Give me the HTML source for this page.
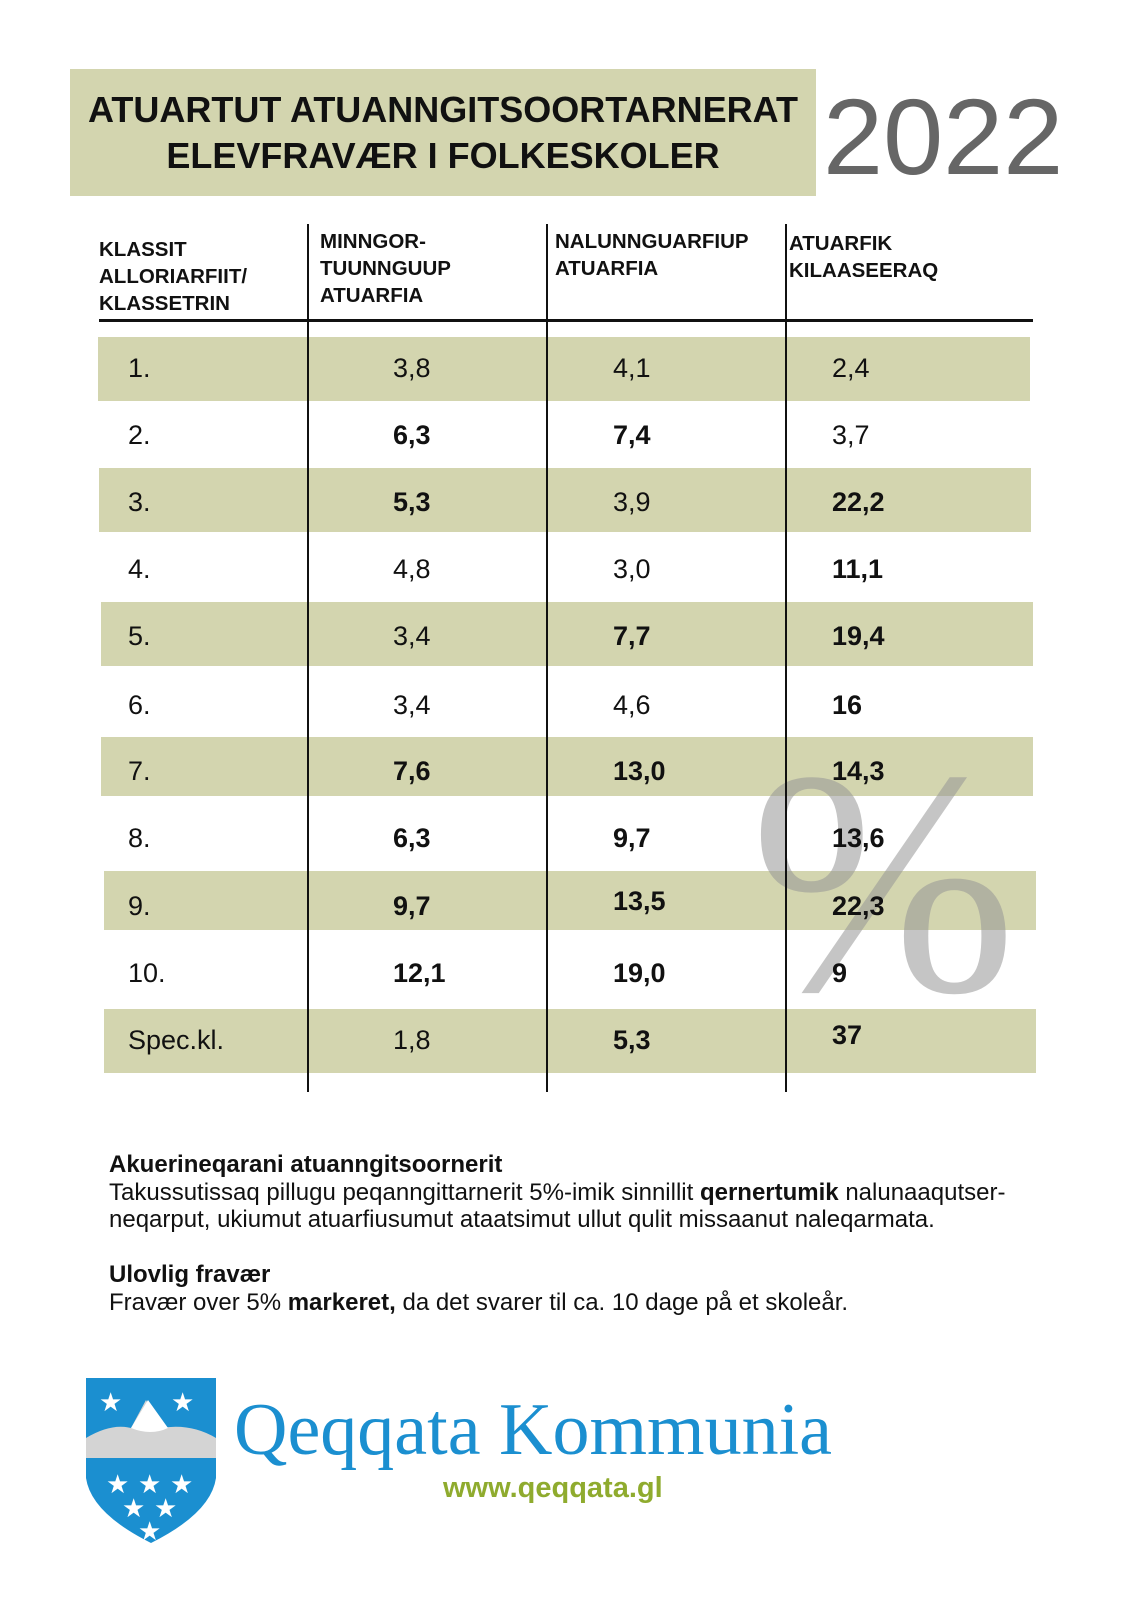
<!DOCTYPE html>
<html><head><meta charset="utf-8"><style>
body{margin:0;width:1140px;height:1613px;background:#fff;position:relative;overflow:hidden;font-family:"Liberation Sans",sans-serif;color:#111}
.a{position:absolute;white-space:nowrap}
.sh{position:absolute;background:#d3d5af}
.v{position:absolute;width:2px;background:#111;top:224px;height:868px}
.t{position:absolute;font-size:27px;line-height:30px;transform:translateY(-15px)}
.b{font-weight:bold}
.h{position:absolute;font-weight:bold;font-size:20.5px;line-height:27px;top:232px}
</style></head><body>
<div class="sh" style="left:70px;top:69px;width:746px;height:127px"></div>
<div class="a b" style="left:70px;width:746px;text-align:center;top:87px;font-size:36px;line-height:46px">ATUARTUT ATUANNGITSOORTARNERAT<br>ELEVFRAVÆR I FOLKESKOLER</div>
<div class="a" style="left:823px;top:74px;font-size:108px;line-height:126px;color:#666">2022</div>

<div class="h" style="left:99px;top:236px">KLASSIT<br>ALLORIARFIIT/<br>KLASSETRIN</div>
<div class="h" style="left:320px;top:228px">MINNGOR-<br>TUUNNGUUP<br>ATUARFIA</div>
<div class="h" style="left:555px;top:228px">NALUNNGUARFIUP<br>ATUARFIA</div>
<div class="h" style="left:789px;top:230px">ATUARFIK<br>KILAASEERAQ</div>

<div class="sh" style="left:98px;top:337px;width:932px;height:64px"></div>
<div class="sh" style="left:99px;top:468px;width:932px;height:64px"></div>
<div class="sh" style="left:101px;top:602px;width:932px;height:64px"></div>
<div class="sh" style="left:101px;top:737px;width:932px;height:59px"></div>
<div class="sh" style="left:104px;top:871px;width:932px;height:59px"></div>
<div class="sh" style="left:104px;top:1009px;width:932px;height:64px"></div>

<div class="a" style="left:750px;top:698px;font-family:'Liberation Serif',serif;font-size:320px;line-height:370px;color:rgba(150,150,150,0.55)">%</div>

<div style="position:absolute;left:99px;top:319px;width:934px;height:3px;background:#111"></div>
<div class="v" style="left:307px"></div>
<div class="v" style="left:546px"></div>
<div class="v" style="left:785px"></div>

<div class="t" style="left:128px;top:368px">1.</div><div class="t" style="left:393px;top:368px">3,8</div><div class="t" style="left:613px;top:368px">4,1</div><div class="t" style="left:832px;top:368px">2,4</div>
<div class="t" style="left:128px;top:435px">2.</div><div class="t b" style="left:393px;top:435px">6,3</div><div class="t b" style="left:613px;top:435px">7,4</div><div class="t" style="left:832px;top:435px">3,7</div>
<div class="t" style="left:128px;top:502px">3.</div><div class="t b" style="left:393px;top:502px">5,3</div><div class="t" style="left:613px;top:502px">3,9</div><div class="t b" style="left:832px;top:502px">22,2</div>
<div class="t" style="left:128px;top:569px">4.</div><div class="t" style="left:393px;top:569px">4,8</div><div class="t" style="left:613px;top:569px">3,0</div><div class="t b" style="left:832px;top:569px">11,1</div>
<div class="t" style="left:128px;top:636px">5.</div><div class="t" style="left:393px;top:636px">3,4</div><div class="t b" style="left:613px;top:636px">7,7</div><div class="t b" style="left:832px;top:636px">19,4</div>
<div class="t" style="left:128px;top:705px">6.</div><div class="t" style="left:393px;top:705px">3,4</div><div class="t" style="left:613px;top:705px">4,6</div><div class="t b" style="left:832px;top:705px">16</div>
<div class="t" style="left:128px;top:771px">7.</div><div class="t b" style="left:393px;top:771px">7,6</div><div class="t b" style="left:613px;top:771px">13,0</div><div class="t b" style="left:832px;top:771px">14,3</div>
<div class="t" style="left:128px;top:838px">8.</div><div class="t b" style="left:393px;top:838px">6,3</div><div class="t b" style="left:613px;top:838px">9,7</div><div class="t b" style="left:832px;top:838px">13,6</div>
<div class="t" style="left:128px;top:906px">9.</div><div class="t b" style="left:393px;top:906px">9,7</div><div class="t b" style="left:613px;top:901px">13,5</div><div class="t b" style="left:832px;top:906px">22,3</div>
<div class="t" style="left:128px;top:973px">10.</div><div class="t b" style="left:393px;top:973px">12,1</div><div class="t b" style="left:613px;top:973px">19,0</div><div class="t b" style="left:832px;top:973px">9</div>
<div class="t" style="left:128px;top:1040px">Spec.kl.</div><div class="t" style="left:393px;top:1040px">1,8</div><div class="t b" style="left:613px;top:1040px">5,3</div><div class="t b" style="left:832px;top:1035px">37</div>

<div class="a" style="left:109px;top:1151px;font-size:24px;line-height:27.5px"><b>Akuerineqarani atuanngitsoornerit</b><br>Takussutissaq pillugu peqanngittarnerit 5%-imik sinnillit <b>qernertumik</b> nalunaaqutser-<br>neqarput, ukiumut atuarfiusumut ataatsimut ullut qulit missaanut naleqarmata.</div>
<div class="a" style="left:109px;top:1261px;font-size:24px;line-height:27.5px"><b>Ulovlig fravær</b><br>Fravær over 5% <b>markeret,</b> da det svarer til ca. 10 dage på et skoleår.</div>

<svg style="position:absolute;left:86px;top:1378px" width="130" height="165" viewBox="0 0 130 165">
<path d="M0 0H130V100Q125 135 65 165Q5 135 0 100Z" fill="#1b8fd0"/>
<path d="M0 60Q25 45 45 50L60 22L75 50Q105 45 130 60V80H0Z" fill="#d4d4d4"/>
<path d="M45 50L62 22L82 50Q65 58 45 50Z" fill="#fff"/>
<g fill="#fff" font-size="26" font-family="DejaVu Sans">
<text x="13" y="33">★</text><text x="85" y="33">★</text>
<text x="20" y="115">★</text><text x="52" y="115">★</text><text x="84" y="115">★</text>
<text x="36" y="139">★</text><text x="68" y="139">★</text><text x="52" y="162">★</text></g>
</svg>
<div class="a" style="left:234px;top:1387px;font-family:'Liberation Serif',serif;font-size:74px;line-height:86px;color:#1b8fd0">Qeqqata Kommunia</div>
<div class="a b" style="left:443px;top:1471px;font-size:29px;line-height:34px;color:#8fab2e">www.qeqqata.gl</div>
</body></html>
